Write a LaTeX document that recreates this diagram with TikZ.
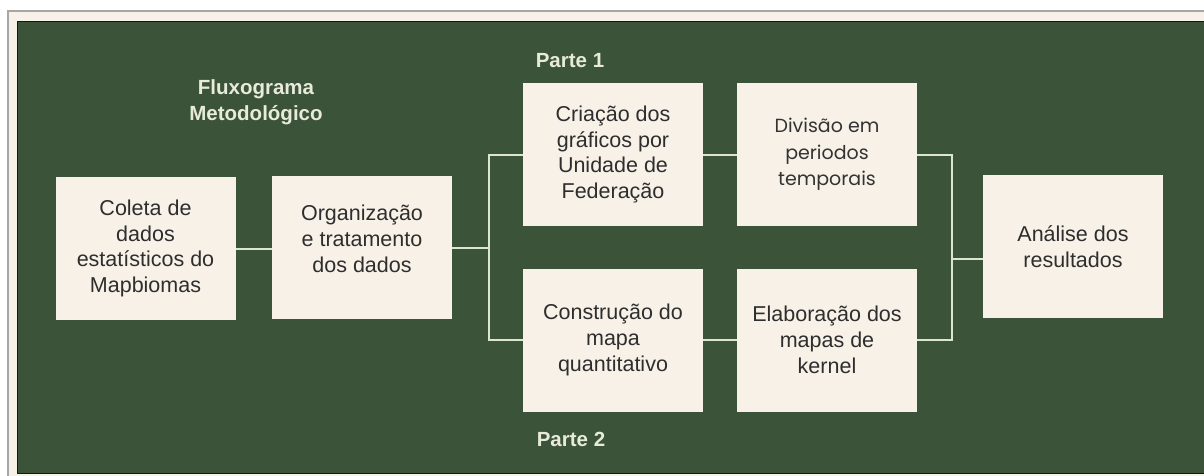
\documentclass[tikz,border=0pt]{standalone}
\usepackage{fontspec}
\setmainfont{Liberation Sans}
\newfontfamily\popfont{Poppins}
\definecolor{bgc}{HTML}{3B5339}
\definecolor{framec}{HTML}{F8F1EA}
\definecolor{boxc}{HTML}{F8F1E8}
\definecolor{txtc}{HTML}{2E2E2E}
\definecolor{linec}{HTML}{DCE5D0}
\definecolor{labc}{HTML}{E8EBDA}
\begin{document}
\begin{tikzpicture}[x=1pt,y=-1pt,
  box/.style={fill=boxc, minimum width=180pt, minimum height=143pt, inner sep=0pt, align=center, text=txtc, font=\fontsize{21.5}{25.8}\selectfont},
  conn/.style={draw=linec, line width=2pt},
  lbl/.style={text=labc, font=\bfseries\fontsize{20.5}{26}\selectfont, align=center}]
\useasboundingbox (0,0) rectangle (1204,475);
\fill[white] (0,0) rectangle (1204,475);
\draw[fill=framec, draw=black!35, line width=1.2pt] (8,11) rectangle (1230,500);
\draw[fill=bgc, draw=black!70!bgc, line width=1pt] (17,21) rectangle (1230,473);

\node[box] (coleta) at (145.5,248.5) {Coleta de\\dados\\estatísticos do\\Mapbiomas};
\node[box] (org) at (362,247.5) {\raisebox{0pt}[0pt][0pt]{}Organização\\e tratamento\\dos dados\\[-8pt]};
\node[box] (cria) at (613,154.5) {Criação dos\\gráficos por\\Unidade de\\Federação};
\node[box, text=black!80, font=\popfont\fontsize{19}{26.5}\selectfont] (div) at (827,154.5) {Divisão em\\periodos\\temporais};
\node[box] (cons) at (613,340) {Construção do\\mapa\\quantitativo};
\node[box] (elab) at (827,340) {Elaboração dos\\mapas de\\kernel};
\node[box] (anal) at (1073,246.5) {Análise dos\\resultados};

\node[lbl] (title) at (256,102) {Fluxograma\\Metodológico};
\node[lbl] (p1) at (570,61) {Parte 1};
\node[lbl] (p2) at (571,439) {Parte 2};

\coordinate (s1) at (489,247);
\coordinate (s2) at (952,259);
\draw[conn] (coleta.east) -- (coleta.east -| org.west);
\draw[conn] (org.east) -- (org.east -| s1);
\draw[conn] (cria.west) -- (cria.west -| s1) -- (cons.west -| s1) -- (cons.west);
\draw[conn] (cria.east) -- (div.west);
\draw[conn] (cons.east) -- (elab.west);
\draw[conn] (div.east) -- (div.east -| s2) -- (elab.east -| s2) -- (elab.east);
\draw[conn] (s2) -- (s2 -| anal.west);
\end{tikzpicture}
\end{document}
